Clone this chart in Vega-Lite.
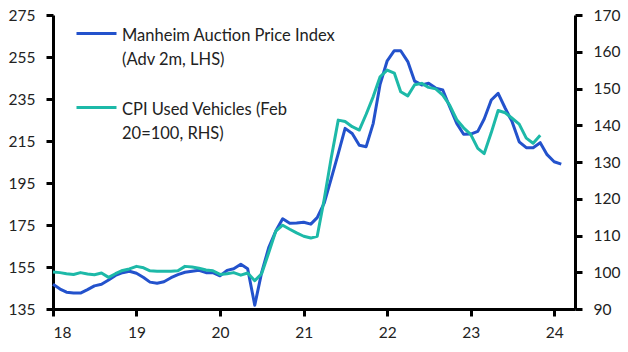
{
  "$schema": "https://vega.github.io/schema/vega-lite/v6.json",
  "width": 522,
  "height": 294,
  "autosize": "none",
  "padding": {"left": 53, "top": 15, "right": 53, "bottom": 43},
  "background": "white",
  "config": {
    "view": {"stroke": null},
    "font": "Lato",
    "axis": {"labelFont": "Lato", "labelFontSize": 15.5, "labelColor": "#222", "domainColor": "#000", "domainWidth": 3, "tickColor": "#000", "tickWidth": 3, "tickSize": 7, "grid": false, "title": null, "labelPadding": 11},
    "legend": {"labelFont": "Lato", "labelFontSize": 16.5, "labelColor": "#222", "labelLimit": 400, "padding": 0}
  },
  "datasets": {
    "manheim": [
      {"date": "2018-01-01", "value": 146.8}, {"date": "2018-02-01", "value": 144.5}, {"date": "2018-03-01", "value": 143.0}, {"date": "2018-04-01", "value": 142.6}, {"date": "2018-05-01", "value": 142.6}, {"date": "2018-06-01", "value": 144.2}, {"date": "2018-07-01", "value": 146.0}, {"date": "2018-08-01", "value": 146.8}, {"date": "2018-09-01", "value": 148.8}, {"date": "2018-10-01", "value": 151.0}, {"date": "2018-11-01", "value": 152.3}, {"date": "2018-12-01", "value": 153.0},
      {"date": "2019-01-01", "value": 152.0}, {"date": "2019-02-01", "value": 150.0}, {"date": "2019-03-01", "value": 147.8}, {"date": "2019-04-01", "value": 147.3}, {"date": "2019-05-01", "value": 148.0}, {"date": "2019-06-01", "value": 149.9}, {"date": "2019-07-01", "value": 151.4}, {"date": "2019-08-01", "value": 152.5}, {"date": "2019-09-01", "value": 153.0}, {"date": "2019-10-01", "value": 153.4}, {"date": "2019-11-01", "value": 152.3}, {"date": "2019-12-01", "value": 152.3},
      {"date": "2020-01-01", "value": 150.8}, {"date": "2020-02-01", "value": 153.4}, {"date": "2020-03-01", "value": 154.2}, {"date": "2020-04-01", "value": 156.3}, {"date": "2020-05-01", "value": 154.2}, {"date": "2020-06-01", "value": 136.8}, {"date": "2020-07-01", "value": 152.3}, {"date": "2020-08-01", "value": 164.2}, {"date": "2020-09-01", "value": 172.1}, {"date": "2020-10-01", "value": 178.0}, {"date": "2020-11-01", "value": 175.8}, {"date": "2020-12-01", "value": 176.0},
      {"date": "2021-01-01", "value": 176.3}, {"date": "2021-02-01", "value": 175.4}, {"date": "2021-03-01", "value": 178.5}, {"date": "2021-04-01", "value": 185.5}, {"date": "2021-05-01", "value": 197.0}, {"date": "2021-06-01", "value": 209.0}, {"date": "2021-07-01", "value": 221.0}, {"date": "2021-08-01", "value": 218.6}, {"date": "2021-09-01", "value": 213.0}, {"date": "2021-10-01", "value": 212.3}, {"date": "2021-11-01", "value": 223.4}, {"date": "2021-12-01", "value": 242.0},
      {"date": "2022-01-01", "value": 253.2}, {"date": "2022-02-01", "value": 258.0}, {"date": "2022-03-01", "value": 258.0}, {"date": "2022-04-01", "value": 252.8}, {"date": "2022-05-01", "value": 243.5}, {"date": "2022-06-01", "value": 241.7}, {"date": "2022-07-01", "value": 242.5}, {"date": "2022-08-01", "value": 240.2}, {"date": "2022-09-01", "value": 239.3}, {"date": "2022-10-01", "value": 231.3}, {"date": "2022-11-01", "value": 223.4}, {"date": "2022-12-01", "value": 218.2},
      {"date": "2023-01-01", "value": 218.3}, {"date": "2023-02-01", "value": 219.6}, {"date": "2023-03-01", "value": 225.5}, {"date": "2023-04-01", "value": 234.5}, {"date": "2023-05-01", "value": 237.7}, {"date": "2023-06-01", "value": 230.6}, {"date": "2023-07-01", "value": 224.2}, {"date": "2023-08-01", "value": 214.6}, {"date": "2023-09-01", "value": 211.8}, {"date": "2023-10-01", "value": 211.8}, {"date": "2023-11-01", "value": 214.2}, {"date": "2023-12-01", "value": 208.5},
      {"date": "2024-01-01", "value": 205.1}, {"date": "2024-02-01", "value": 204.0}
    ],
    "cpi": [
      {"date": "2018-01-01", "value": 100.1}, {"date": "2018-02-01", "value": 99.9}, {"date": "2018-03-01", "value": 99.6}, {"date": "2018-04-01", "value": 99.4}, {"date": "2018-05-01", "value": 99.9}, {"date": "2018-06-01", "value": 99.5}, {"date": "2018-07-01", "value": 99.3}, {"date": "2018-08-01", "value": 99.8}, {"date": "2018-09-01", "value": 98.6}, {"date": "2018-10-01", "value": 99.6}, {"date": "2018-11-01", "value": 100.5}, {"date": "2018-12-01", "value": 100.9},
      {"date": "2019-01-01", "value": 101.6}, {"date": "2019-02-01", "value": 101.2}, {"date": "2019-03-01", "value": 100.4}, {"date": "2019-04-01", "value": 100.3}, {"date": "2019-05-01", "value": 100.3}, {"date": "2019-06-01", "value": 100.3}, {"date": "2019-07-01", "value": 100.4}, {"date": "2019-08-01", "value": 101.6}, {"date": "2019-09-01", "value": 101.4}, {"date": "2019-10-01", "value": 101.1}, {"date": "2019-11-01", "value": 100.6}, {"date": "2019-12-01", "value": 100.4},
      {"date": "2020-01-01", "value": 99.4}, {"date": "2020-02-01", "value": 99.6}, {"date": "2020-03-01", "value": 99.9}, {"date": "2020-04-01", "value": 99.2}, {"date": "2020-05-01", "value": 99.8}, {"date": "2020-06-01", "value": 97.7}, {"date": "2020-07-01", "value": 99.6}, {"date": "2020-08-01", "value": 105.3}, {"date": "2020-09-01", "value": 111.2}, {"date": "2020-10-01", "value": 112.8}, {"date": "2020-11-01", "value": 111.7}, {"date": "2020-12-01", "value": 110.7},
      {"date": "2021-01-01", "value": 109.8}, {"date": "2021-02-01", "value": 109.3}, {"date": "2021-03-01", "value": 109.8}, {"date": "2021-04-01", "value": 120.0}, {"date": "2021-05-01", "value": 131.0}, {"date": "2021-06-01", "value": 141.4}, {"date": "2021-07-01", "value": 141.0}, {"date": "2021-08-01", "value": 139.6}, {"date": "2021-09-01", "value": 138.7}, {"date": "2021-10-01", "value": 143.0}, {"date": "2021-11-01", "value": 147.8}, {"date": "2021-12-01", "value": 153.2},
      {"date": "2022-01-01", "value": 155.0}, {"date": "2022-02-01", "value": 154.2}, {"date": "2022-03-01", "value": 149.1}, {"date": "2022-04-01", "value": 148.0}, {"date": "2022-05-01", "value": 151.0}, {"date": "2022-06-01", "value": 151.4}, {"date": "2022-07-01", "value": 150.3}, {"date": "2022-08-01", "value": 149.9}, {"date": "2022-09-01", "value": 148.2}, {"date": "2022-10-01", "value": 145.5}, {"date": "2022-11-01", "value": 141.5}, {"date": "2022-12-01", "value": 139.3},
      {"date": "2023-01-01", "value": 137.5}, {"date": "2023-02-01", "value": 133.7}, {"date": "2023-03-01", "value": 132.3}, {"date": "2023-04-01", "value": 138.0}, {"date": "2023-05-01", "value": 144.0}, {"date": "2023-06-01", "value": 143.4}, {"date": "2023-07-01", "value": 141.9}, {"date": "2023-08-01", "value": 140.3}, {"date": "2023-09-01", "value": 136.5}, {"date": "2023-10-01", "value": 135.1}, {"date": "2023-11-01", "value": 137.3}
    ]
  },
  "encoding": {
    "x": {
      "field": "date", "type": "temporal",
      "scale": {"type": "utc", "domain": [{"year": 2018, "month": 1, "date": 1, "utc": true}, {"year": 2024, "month": 4, "date": 1, "utc": true}]},
      "axis": {"labelExpr": "utcFormat(datum.value, '%y')", "values": [{"year": 2018, "month": 1, "date": 1, "utc": true}, {"year": 2019, "month": 1, "date": 1, "utc": true}, {"year": 2020, "month": 1, "date": 1, "utc": true}, {"year": 2021, "month": 1, "date": 1, "utc": true}, {"year": 2022, "month": 1, "date": 1, "utc": true}, {"year": 2023, "month": 1, "date": 1, "utc": true}, {"year": 2024, "month": 1, "date": 1, "utc": true}], "ticks": true, "tickSize": 7, "tickWidth": 3, "tickColor": "#000", "tickOpacity": 1, "labelPadding": 9}
    }
  },
  "layer": [
    {
      "data": {"name": "manheim"},
      "mark": {"type": "line", "strokeWidth": 3, "strokeJoin": "round"},
      "encoding": {
        "y": {"field": "value", "type": "quantitative", "scale": {"domain": [135, 275], "nice": false, "zero": false}, "axis": {"orient": "left", "values": [135, 155, 175, 195, 215, 235, 255, 275]}},
        "color": {
          "datum": "Manheim Auction Price Index|(Adv 2m, LHS)",
          "scale": {"domain": ["Manheim Auction Price Index|(Adv 2m, LHS)", "CPI Used Vehicles (Feb|20=100, RHS)"], "range": ["#2352CC", "#1DB9A8"]},
          "legend": {"title": null, "orient": "none", "legendX": 22, "legendY": -3, "symbolType": "stroke", "symbolSize": 1600, "symbolStrokeWidth": 3, "labelExpr": "split(datum.label, '|')", "labelBaseline": "top", "labelOffset": 4, "rowPadding": 18, "encode": {"labels": {"update": {"lineHeight": {"value": 24}, "dy": {"value": -6}}}}}
        }
      }
    },
    {
      "data": {"name": "cpi"},
      "mark": {"type": "line", "strokeWidth": 3, "strokeJoin": "round"},
      "encoding": {
        "y": {"field": "value", "type": "quantitative", "scale": {"domain": [90, 170], "nice": false, "zero": false}, "axis": {"orient": "right", "values": [90, 100, 110, 120, 130, 140, 150, 160, 170]}},
        "color": {"datum": "CPI Used Vehicles (Feb|20=100, RHS)"}
      }
    }
  ],
  "resolve": {"scale": {"y": "independent"}}
}
